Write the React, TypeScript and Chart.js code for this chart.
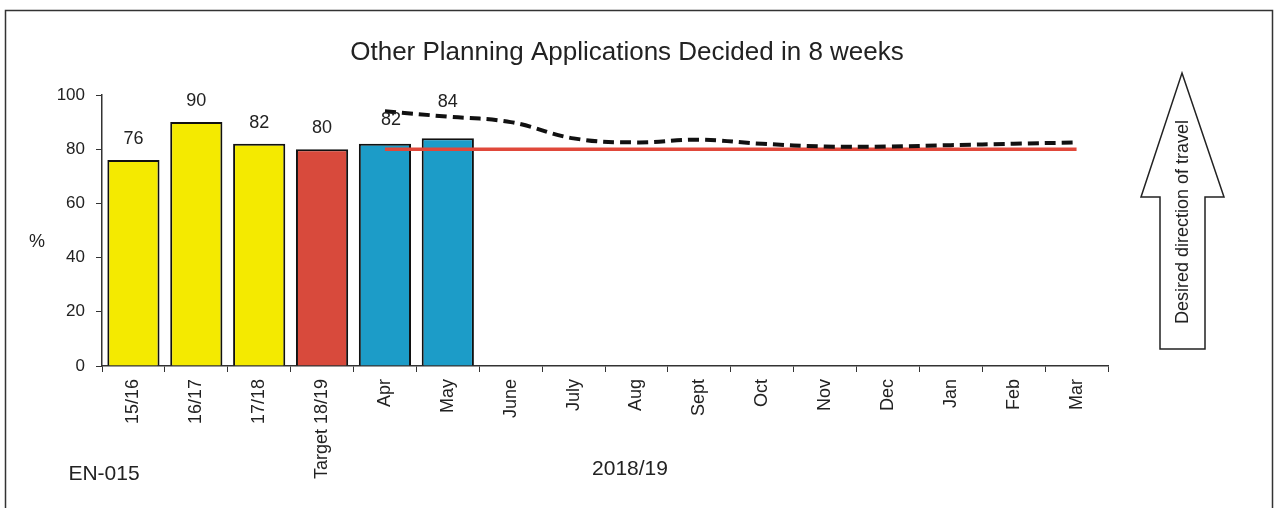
import React, { useEffect, useRef } from "react";
import { Chart, registerables } from "chart.js";

Chart.register(...registerables);

const categories = ["15/16", "16/17", "17/18", "Target 18/19", "Apr", "May", "June", "July", "Aug", "Sept", "Oct", "Nov", "Dec", "Jan", "Feb", "Mar"];
const barValues = [76, 90, 82, 80, 82, 84, null, null, null, null, null, null, null, null, null, null];
const barColors = ["#f4ea00", "#f4ea00", "#f4ea00", "#d84a3c", "#1c9cc8", "#1c9cc8", "#1c9cc8", "#1c9cc8", "#1c9cc8", "#1c9cc8", "#1c9cc8", "#1c9cc8", "#1c9cc8", "#1c9cc8", "#1c9cc8", "#1c9cc8"];
const trendValues = [null, null, null, null, 94, 92, 90, 84, 82.5, 83.5, 82, 81, 81, 81.5, 82, 82.5];
const targetValues = [null, null, null, null, 80, 80, 80, 80, 80, 80, 80, 80, 80, 80, 80, 80];
const yTicks = [0, 20, 40, 60, 80, 100];

const FONT = "'Liberation Sans', Arial, sans-serif";
const BAR_DATASET = 2;
// label placement tweaks (dx, dy above bar top) to mimic the original's adjusted labels
const labelShift: Record<number, [number, number]> = { 4: [6, 24], 5: [0, 36] };

const extrasPlugin = {
  id: "extras",
  afterDatasetsDraw(chart: any) {
    const ctx = chart.ctx;
    ctx.save();
    const meta = chart.getDatasetMeta(BAR_DATASET);
    ctx.fillStyle = "#222";
    ctx.font = `18px ${FONT}`;
    ctx.textAlign = "center";
    ctx.textBaseline = "middle";
    meta.data.forEach((el: any, i: number) => {
      const v = barValues[i];
      if (v === null || v === undefined) return;
      const [dx, dy] = labelShift[i] || [0, 21];
      ctx.fillText(String(v), el.x + dx, el.y - dy);
    });
    ctx.restore();
  },
  afterDraw(chart: any) {
    const ctx = chart.ctx;
    ctx.save();
    ctx.strokeStyle = "#333";
    ctx.lineWidth = 1.5;
    ctx.beginPath();
    ctx.moveTo(5.5, 508);
    ctx.lineTo(5.5, 10.5);
    ctx.lineTo(1272.5, 10.5);
    ctx.lineTo(1272.5, 508);
    ctx.stroke();

    ctx.fillStyle = "#222";
    ctx.font = `26px ${FONT}`;
    ctx.textAlign = "center";
    ctx.textBaseline = "middle";
    ctx.fillText("Other Planning Applications Decided in 8 weeks", 627, 53);
    ctx.font = `18px ${FONT}`;
    ctx.fillText("%", 37, 242);
    ctx.font = `21px ${FONT}`;
    ctx.fillText("EN-015", 104, 474);
    ctx.fillText("2018/19", 630, 469);

    ctx.strokeStyle = "#222";
    ctx.lineWidth = 1.5;
    ctx.fillStyle = "#fff";
    ctx.beginPath();
    ctx.moveTo(1182, 73);
    ctx.lineTo(1224, 197);
    ctx.lineTo(1205, 197);
    ctx.lineTo(1205, 349);
    ctx.lineTo(1160, 349);
    ctx.lineTo(1160, 197);
    ctx.lineTo(1141, 197);
    ctx.closePath();
    ctx.fill();
    ctx.stroke();
    ctx.translate(1183, 222);
    ctx.rotate(-Math.PI / 2);
    ctx.fillStyle = "#222";
    ctx.font = `18px ${FONT}`;
    ctx.textAlign = "center";
    ctx.textBaseline = "middle";
    ctx.fillText("Desired direction of travel", 0, 0);
    ctx.restore();
  },
};

export default function App() {
  const ref = useRef<HTMLCanvasElement | null>(null);
  useEffect(() => {
    if (!ref.current) return;
    const chart = new Chart(ref.current, {
      type: "bar",
      data: {
        labels: categories,
        datasets: [
          {
            type: "line",
            label: "Trend",
            data: trendValues,
            borderColor: "#111",
            borderWidth: 4,
            borderDash: [11, 6],
            tension: 0.4,
            pointRadius: 0,
            fill: false,
            order: 1,
          } as any,
          {
            type: "line",
            label: "Target",
            data: targetValues,
            borderColor: "#e0483a",
            borderWidth: 3.5,
            tension: 0,
            pointRadius: 0,
            fill: false,
            order: 2,
          } as any,
          {
            type: "bar",
            label: "Actual",
            data: barValues,
            backgroundColor: barColors,
            borderColor: "#111",
            borderWidth: 2,
            barPercentage: 0.83,
            categoryPercentage: 1,
            order: 3,
          } as any,
        ],
      },
      options: {
        responsive: false,
        animation: false,
        layout: { padding: { left: 0, right: 169, top: 95, bottom: 0 } },
        plugins: {
          legend: { display: false },
          title: { display: false },
          tooltip: { enabled: false },
        },
        scales: {
          x: {
            afterFit: (s: any) => { s.height = 142; },
            grid: { display: true, drawOnChartArea: false, drawTicks: true, tickLength: 6, color: "#333", offset: true },
            border: { display: true, color: "#333", width: 1.5 },
            ticks: {
              minRotation: 90,
              maxRotation: 90,
              autoSkip: false,
              padding: 7,
              color: "#222",
              font: { family: FONT, size: 18 },
            },
          },
          y: {
            min: 0,
            max: 100,
            afterFit: (s: any) => { s.width = 102; },
            afterBuildTicks: (s: any) => { s.ticks = yTicks.map((v) => ({ value: v })); },
            grid: { display: true, drawOnChartArea: false, drawTicks: true, tickLength: 6, color: "#333" },
            border: { display: true, color: "#333", width: 1.5 },
            ticks: {
              padding: 11,
              color: "#222",
              font: { family: FONT, size: 17 },
            },
          },
        },
      },
      plugins: [extrasPlugin],
    });
    return () => chart.destroy();
  }, []);
  return (
    <div style={{ position: "fixed", left: 0, top: 0, width: 1277, height: 508, background: "#fff" }}>
      <canvas ref={ref} width={1277} height={508} style={{ display: "block" }} />
    </div>
  );
}
